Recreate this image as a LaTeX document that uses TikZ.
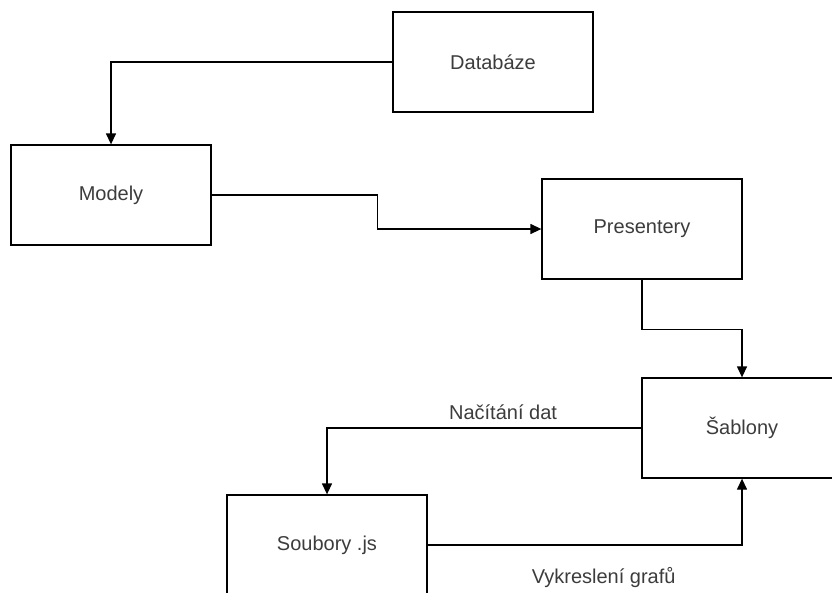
\documentclass[tikz,border=0pt]{standalone}
\usepackage{fontspec}
\setmainfont{Liberation Sans}
\usetikzlibrary{arrows.meta,positioning}
\definecolor{labelgray}{RGB}{60,60,60}

\begin{document}
\begin{tikzpicture}[x=1pt,y=-1pt,
  box/.style={draw, line width=1.3pt, minimum width=200pt, minimum height=100pt,
    inner sep=0pt, font=\fontsize{20}{24}\selectfont, text=labelgray},
  link/.style={line width=1.3pt, -{Triangle[length=11pt,width=10pt]}},
  flowlabel/.style={font=\fontsize{20}{24}\selectfont, text=labelgray}]
\useasboundingbox (0,0) rectangle (832,592);
% Boxes
\node[box] (db) at (493,62) {Databáze};
\node[box] (model) at (111,195) {Modely};
\node[box] (pres) at (642,229) {Presentery};
\node[box] (tpl) at (742,428) {Šablony};
\node[box] (js) at (327,545) {Soubory .js};
% Connectors
\draw[link] (db.west) -| (model.north);
\draw[link] (model.east) -- ++(166,0) |- (pres.west);
\draw[link] (pres.south) -- ++(0,50) -| (tpl.north);
\draw[link] (tpl.west) -| node[flowlabel, above=4pt, pos=0.22] {Načítání dat} (js.north);
\draw[link] (js.east) -| node[flowlabel, below=18pt, pos=0.28] {Vykreslení grafů} (tpl.south);
\end{tikzpicture}
\end{document}
